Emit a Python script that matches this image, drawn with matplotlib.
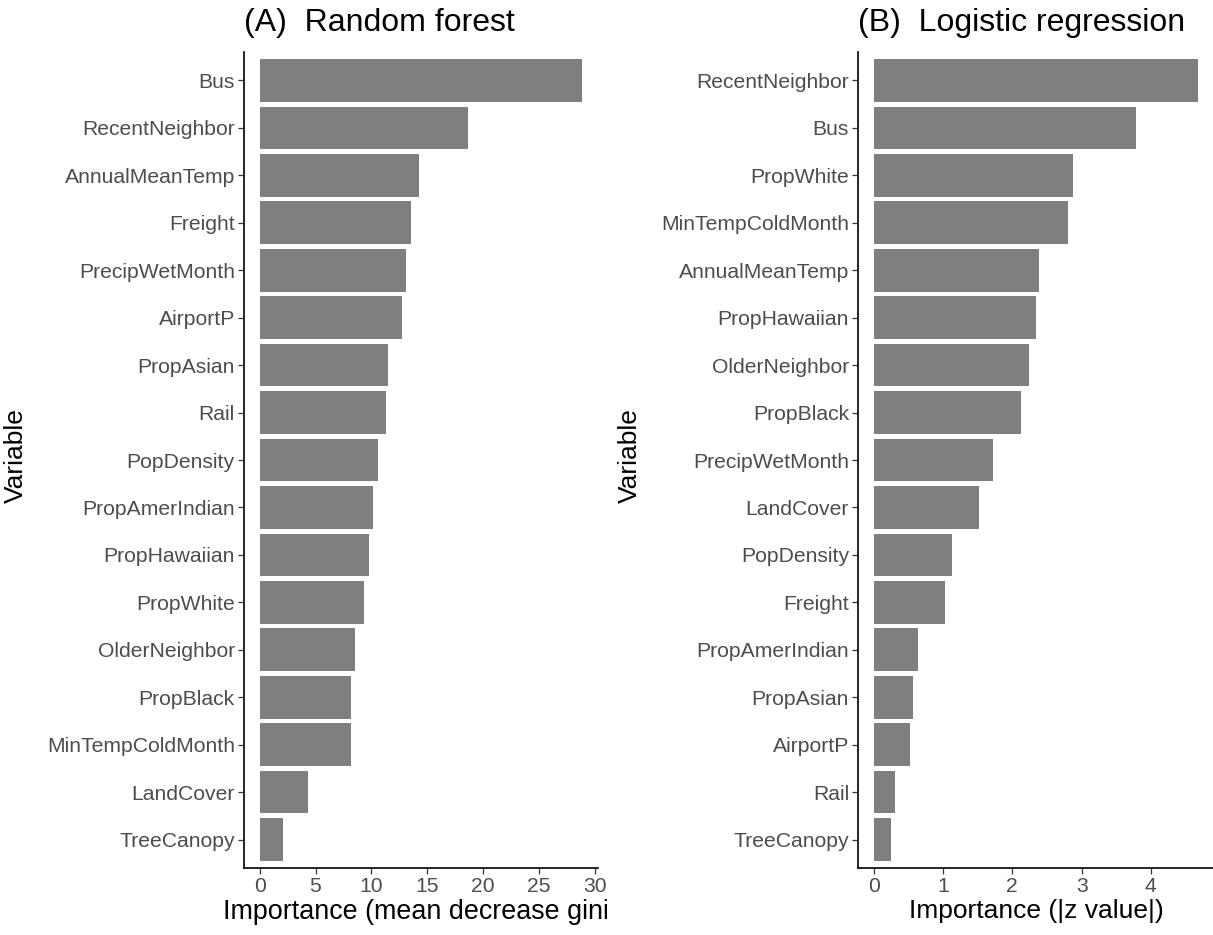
import matplotlib
matplotlib.use("Agg")
import matplotlib.pyplot as plt
from matplotlib.transforms import Bbox

plt.rcParams['font.family'] = ['Liberation Sans', 'DejaVu Sans']

rf_vars = ["Bus", "RecentNeighbor", "AnnualMeanTemp", "Freight", "PrecipWetMonth",
           "AirportP", "PropAsian", "Rail", "PopDensity", "PropAmerIndian",
           "PropHawaiian", "PropWhite", "OlderNeighbor", "PropBlack",
           "MinTempColdMonth", "LandCover", "TreeCanopy"]
rf_vals = [28.9, 18.65, 14.3, 13.55, 13.07, 12.74, 11.49, 11.28, 10.56, 10.12,
           9.79, 9.34, 8.53, 8.21, 8.21, 4.36, 2.09]

lr_vars = ["RecentNeighbor", "Bus", "PropWhite", "MinTempColdMonth", "AnnualMeanTemp",
           "PropHawaiian", "OlderNeighbor", "PropBlack", "PrecipWetMonth", "LandCover",
           "PopDensity", "Freight", "PropAmerIndian", "PropAsian", "AirportP", "Rail",
           "TreeCanopy"]
lr_vals = [4.68, 3.78, 2.87, 2.80, 2.39, 2.34, 2.24, 2.12, 1.72, 1.52, 1.13, 1.02,
           0.64, 0.56, 0.52, 0.31, 0.25]

rf_ticks = [0, 5, 10, 15, 20, 25, 30]
lr_ticks = [0, 1, 2, 3, 4]

W, H = 1213, 935
fig = plt.figure(figsize=(W / 100, H / 100), dpi=100)
fig.patch.set_facecolor("white")

def px_axes(x0, x1, y0, y1):
    return fig.add_axes([x0 / W, 1 - y1 / H, (x1 - x0) / W, (y1 - y0) / H])

axA = px_axes(243.6, 598.4, 52, 868)
axB = px_axes(857.8, 1214.0, 52, 868)

def draw(ax, names, vals, ticks, title, xlabel, ylab_x, xlab_x, xlab_size):
    n = len(names)
    pos = [n - 1 - i for i in range(n)]
    ax.barh(pos, vals, height=0.9, color="#7F7F7F", edgecolor="none")
    ax.set_yticks(pos)
    ax.set_yticklabels(names)
    ax.set_ylim(-0.6, n - 1 + 0.6)
    mx = max(vals)
    ax.set_xlim(-0.05 * mx, 1.05 * mx)
    ax.set_xticks(ticks)
    ax.set_xticklabels([str(t) for t in ticks])
    for s in ["top", "right"]:
        ax.spines[s].set_visible(False)
    for s in ["left", "bottom"]:
        ax.spines[s].set_linewidth(1.2)
        ax.spines[s].set_color("black")
    ax.tick_params(axis="both", length=4.3, width=0.9, color="#333333",
                   labelcolor="#4D4D4D", labelsize=15.2, pad=2.0)
    ax.set_title(title, loc="left", fontsize=23, pad=15, color="black")
    xl = ax.set_xlabel(xlabel, fontsize=xlab_size, color="black")
    ax.xaxis.set_label_coords(xlab_x, -0.038)
    ax.set_ylabel("Variable", fontsize=19, color="black")
    ax.yaxis.set_label_coords(ylab_x, 0.505)
    return xl

xlA = draw(axA, rf_vars, rf_vals, rf_ticks, "(A)  Random forest",
           "Importance (mean decrease gini)", -0.608, 0.4985, 19.4)
draw(axB, lr_vars, lr_vals, lr_ticks, "(B)  Logistic regression",
     "Importance (|z value|)", -0.605, 0.5, 19)

# the left panel's axis title is clipped at the panel boundary
xlA.set_clip_box(Bbox.from_extents(0, 0, 607, H))
xlA.set_clip_on(True)

fig.savefig("out.png", dpi=100, facecolor="white")
